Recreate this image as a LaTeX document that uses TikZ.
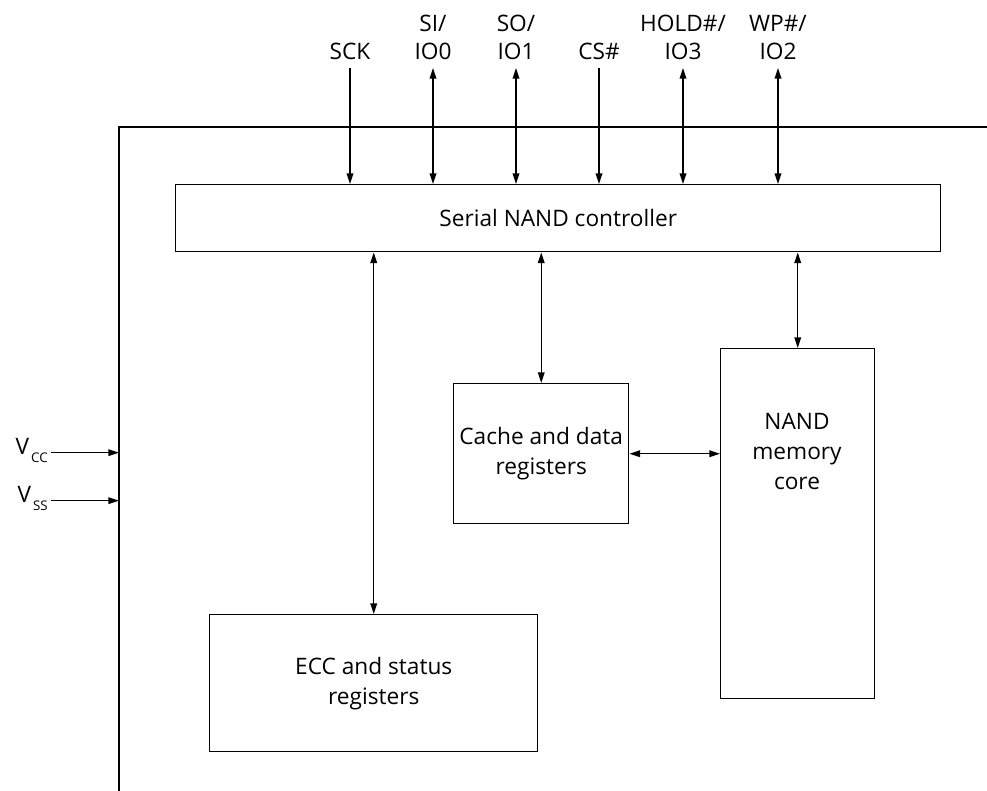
\documentclass[tikz,border=0pt]{standalone}
\usepackage{fontspec}
\setmainfont{Open Sans}
\usetikzlibrary{arrows.meta,positioning}

\begin{document}
\begin{tikzpicture}[x=0.75pt,y=-0.75pt,>={Triangle[width=5pt,length=8pt]},
  font=\fontsize{17}{22.5}\selectfont,
  blk/.style={draw,line width=1.1pt,inner sep=0pt,anchor=north west,align=center},
  arr/.style={line width=1.1pt,->},
  barr/.style={line width=1.1pt,<->},
  pinlbl/.style={anchor=south,align=center,inner sep=0pt,font=\fontsize{17}{21}\selectfont},
  frm/.style={line width=1.1pt},
]

%% Layout parameters
\def\px{0.75pt}   % one pixel of the reference
\newcommand{\supsub}[1]{{\fontsize{10}{10}\selectfont\hspace{1.5pt}\raisebox{-6pt}{#1}}}

\useasboundingbox (0,0) rectangle (987,791);

%% ---- Device frame ----
\coordinate (frameTR) at (987,127);
\coordinate (frameTL) at (119,127);
\coordinate (frameBL) at (119,791);
\draw[frm] (frameTR) -- (frameTL) -- (frameBL);

%% ================================================================
%%  Blocks
%% ================================================================
\node[blk,minimum width=765*\px,minimum height=67*\px] (ctrl) at (175,184)
  {Serial NAND controller};
\node[blk,minimum width=175*\px,minimum height=140*\px] (cache) at (453,383)
  {Cache and data\\registers};
\node[blk,minimum width=154*\px,minimum height=350*\px] (core) at (720,348) {};
\node[align=center,inner sep=0pt] (coretxt) at (797,451) {NAND\\memory\\core};
\node[blk,minimum width=328*\px,minimum height=137*\px] (ecc) at (209,614)
  {ECC and status\\registers};

%% ---- Internal buses ----
\draw[barr] (ecc.north |- ctrl.south) -- (ecc.north);
\draw[barr] (cache.north |- ctrl.south) -- (cache.north);
\draw[barr] (core.north |- ctrl.south) -- (core.north);
\draw[barr] (cache.east) -- (cache.east -| core.west);

%% ================================================================
%%  Pins
%% ================================================================
\foreach \x/\nm/\txt/\st in {350/sck/{SCK}/arr, 433/si/{SI/\\IO0}/barr,
    516/so/{SO/\\IO1}/barr, 599/cs/{CS\#}/arr,
    683/hold/{HOLD\#/\\IO3}/barr, 778/wp/{WP\#/\\IO2}/barr}{
  \node[pinlbl] (\nm) at (\x,60) {\txt};
  \draw[\st] ([yshift=-6pt]\nm.south) -- (\nm.south |- ctrl.north);
}

%% ---- Supplies ----
\node[anchor=base east,inner sep=0pt] (vcc) at (48,454) {V\supsub{CC}};
\node[anchor=base east,inner sep=0pt] (vss) at (48,502) {V\supsub{SS}};
\draw[arr] ([xshift=2pt,yshift=1pt]vcc.base east) -- ([yshift=1pt]vcc.base east -| frameTL);
\draw[arr] ([xshift=2pt,yshift=1pt]vss.base east) -- ([yshift=1pt]vss.base east -| frameTL);

\end{tikzpicture}
\end{document}
